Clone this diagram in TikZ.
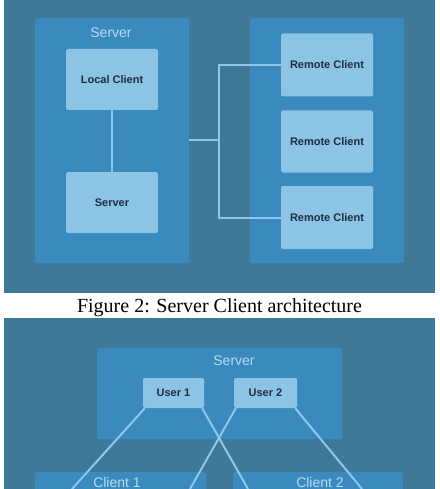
\documentclass[tikz,border=0pt]{standalone}
\usepackage{fontspec}
\setmainfont{Liberation Serif}
\setsansfont{Liberation Sans}
\usepackage{tikz}
\usetikzlibrary{positioning,calc}
\definecolor{slatebg}{HTML}{407898}
\definecolor{panelblue}{HTML}{3A8ABE}
\definecolor{boxblue}{HTML}{8CC4E6}
\definecolor{wireblue}{HTML}{8DC8EC}
\definecolor{ink}{HTML}{1F2D40}
\definecolor{labelblue}{HTML}{B5DCF5}

\begin{document}
\begin{tikzpicture}[
  x=1pt,y=-1pt,
  font=\sffamily,
  panel/.style={fill=panelblue,draw=none,inner sep=0pt,rounded corners=1.5pt},
  box/.style={fill=boxblue,draw=none,align=center,inner sep=0pt,
              rounded corners=2pt,text=ink,font=\sffamily\bfseries\fontsize{11}{13}\selectfont},
  title/.style={text=labelblue,inner sep=0pt,font=\sffamily\fontsize{14}{16}\selectfont},
  wire/.style={draw=wireblue,line width=2pt}
]
\useasboundingbox (0,0) rectangle (439,489);
\clip (0,0) rectangle (439,489);
\fill[white] (0,0) rectangle (439,489);

% Figure 2 backdrop
\fill[slatebg] (4,0) rectangle (435,293);
\node[panel,minimum width=154pt,minimum height=245pt] (srvpanel) at (112,140.5) {};
\node[panel,minimum width=154pt,minimum height=245pt] (rempanel) at (327,140.5) {};
\node[title] (srvtitle) at (111,33) {Server};

\node[box,minimum width=92pt,minimum height=61pt] (local) at (112,79.5) {Local Client};
\node[box,minimum width=92pt,minimum height=61pt] (srv) at (112,202.5) {Server};
\node[box,minimum width=92pt,minimum height=63pt] (rc1) at (327,65) {Remote Client};
\node[box,minimum width=92pt,minimum height=62pt] (rc2) at (327,141.5) {Remote Client};
\node[box,minimum width=92pt,minimum height=63pt] (rc3) at (327,217.5) {Remote Client};

\draw[wire] (local.south) -- (srv.north);
\coordinate (hub) at (219,140.5);
\draw[wire] (srvpanel.east) -- (hub);
\draw[wire] (hub) |- (rc1.west);
\draw[wire] (hub) |- (rc3.west);

\node[font=\rmfamily\fontsize{20}{22}\selectfont,text=black,inner sep=0pt] (caption) at (219.5,308)
  {Figure 2: Server Client architecture};

% Figure 3 backdrop
\fill[slatebg] (4,318) rectangle (435,495);
\node[panel,minimum width=245pt,minimum height=91pt] (users) at (219.5,393.5) {};
\node[title] (userstitle) at (234,361) {Server};
\node[box,minimum width=61pt,minimum height=30pt] (u1) at (173.5,393) {User 1};
\node[box,minimum width=63pt,minimum height=30pt] (u2) at (265.5,393) {User 2};

\fill[panelblue,rounded corners=1.5pt] (35,472) rectangle (206,500);
\fill[panelblue,rounded corners=1.5pt] (233,472) rectangle (403,500);
\node[title] (c1title) at (117,482) {Client 1};
\node[title] (c2title) at (320,482) {Client 2};

\coordinate (e1) at (72,489);
\coordinate (e2) at (248,489);
\coordinate (e3) at (190,489);
\coordinate (e4) at (362,489);
\draw[wire] ([xshift=2pt]u1.south west) -- (e1);
\draw[wire] ([xshift=-2pt]u1.south east) -- (e2);
\draw[wire] ([xshift=2pt]u2.south west) -- (e3);
\draw[wire] ([xshift=-2pt]u2.south east) -- (e4);
\end{tikzpicture}
\end{document}
